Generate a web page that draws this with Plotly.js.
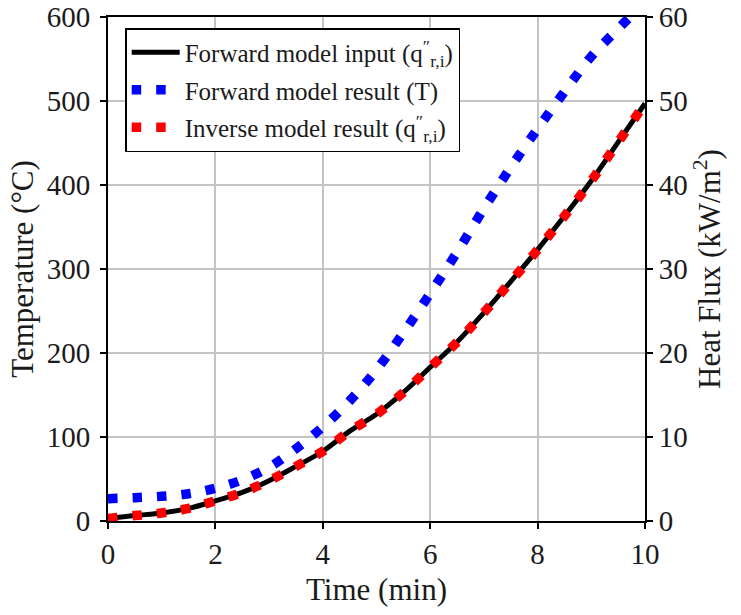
<!DOCTYPE html>
<html>
<head>
<meta charset="utf-8">
<script src="https://cdn.plot.ly/plotly-3.0.1.min.js"></script>
<style>html,body{margin:0;padding:0;background:#fff;}#chart{width:741px;height:615px;}</style>
</head>
<body>
<div id="chart"></div>
<script>
// Time (min)
const time = [0, 0.5, 1.0, 1.5, 2.0, 2.5, 3.0, 3.5, 4.0, 4.5, 5.0, 5.5, 6.0, 6.5, 7.0, 7.5, 8.0, 8.5, 9.0, 9.5, 10.0];
// Forward model input heat flux (kW/m^2)
const heatFluxInput = [0.3, 0.65, 0.95, 1.5, 2.4, 3.4, 4.8, 6.5, 8.3, 10.7, 12.7, 15.3, 18.3, 21.3, 24.8, 28.5, 32.3, 36.3, 40.5, 45.1, 49.7];
// Forward model result temperature (°C)
const temperature = [26.5, 27.8, 29.4, 32.5, 39, 49, 64, 86, 112, 143, 180, 224, 271, 320, 372, 421, 467, 511, 553, 586, 618];
// Inverse model result heat flux (kW/m^2)
const heatFluxInverse = [0.3, 0.65, 0.95, 1.5, 2.4, 3.4, 4.8, 6.5, 8.3, 10.7, 12.7, 15.3, 18.3, 21.3, 24.8, 28.5, 32.3, 36.3, 40.5, 45.1, 49.7];
// Tick labels
const xTicks = [0, 2, 4, 6, 8, 10];
const yTicks = [0, 100, 200, 300, 400, 500, 600];
const y2Ticks = [0, 10, 20, 30, 40, 50, 60];

const FAM = 'Liberation Serif';
const q = 'q<sup>″</sup><sub>r,i</sub>';

function f(size) { return {family: FAM, size: size, color: '#1a1a1a'}; }

const traces = [
  {x: time, y: heatFluxInput, yaxis: 'y2', mode: 'lines', name: 'Forward model input (' + q + ')',
   legendgroup: 'a', line: {color: '#000000', width: 5, shape: 'spline'}},
  {x: time, y: temperature, yaxis: 'y', mode: 'lines', name: 'Forward model result (T)',
   legendgroup: 'b', line: {color: '#0000ff', width: 9.5, dash: '9.5px,15px', shape: 'spline'}},
  {x: time, y: heatFluxInverse, yaxis: 'y2', mode: 'lines', name: 'Inverse model result (' + q + ')',
   legendgroup: 'c', line: {color: '#ff0000', width: 9.5, dash: '9.5px,15px', shape: 'spline'}}
];

const layout = {
  width: 741, height: 615,
  margin: {l: 108, r: 96, t: 17, b: 94},
  paper_bgcolor: '#ffffff', plot_bgcolor: '#ffffff',
  font: f(26),
  showlegend: true,
  legend: {
    x: 0.032, y: 0.978, xanchor: 'left', yanchor: 'top',
    bgcolor: '#ffffff', bordercolor: '#000000', borderwidth: 1.5,
    font: f(25),
    itemwidth: 48,
    tracegroupgap: 2
  },
  xaxis: {
    range: [0, 10], tickvals: xTicks, mirror: true,
    showline: true, linecolor: '#000000', linewidth: 2,
    ticks: 'outside', ticklen: 6, tickwidth: 2, tickcolor: '#000000',
    tickfont: f(29), zeroline: false, ticklabeloverflow: 'allow',
    showgrid: true, gridcolor: '#c4c4c4', gridwidth: 2,
    title: {text: 'Time (min)', font: f(31), standoff: 10}
  },
  yaxis: {
    range: [0, 600], tickvals: yTicks,
    showline: true, linecolor: '#000000', linewidth: 2,
    ticks: 'outside', ticklen: 6, tickwidth: 2, tickcolor: '#000000',
    tickfont: f(29), zeroline: false, ticklabeloverflow: 'allow', ticklabelstandoff: 4,
    showgrid: true, gridcolor: '#c4c4c4', gridwidth: 2,
    title: {text: 'Temperature (°C)', font: f(31), standoff: 4}
  },
  yaxis2: {
    range: [0, 60], tickvals: y2Ticks,
    overlaying: 'y', side: 'right', showgrid: false,
    showline: true, linecolor: '#000000', linewidth: 2,
    ticks: 'outside', ticklen: 6, tickwidth: 2, tickcolor: '#000000',
    tickfont: f(29), zeroline: false, ticklabeloverflow: 'allow',
    title: {text: 'Heat Flux (kW/m<sup>2</sup>)', font: f(31), standoff: 6}
  }
};

Plotly.newPlot('chart', traces, layout, {displayModeBar: false, staticPlot: true});
</script>
</body>
</html>
